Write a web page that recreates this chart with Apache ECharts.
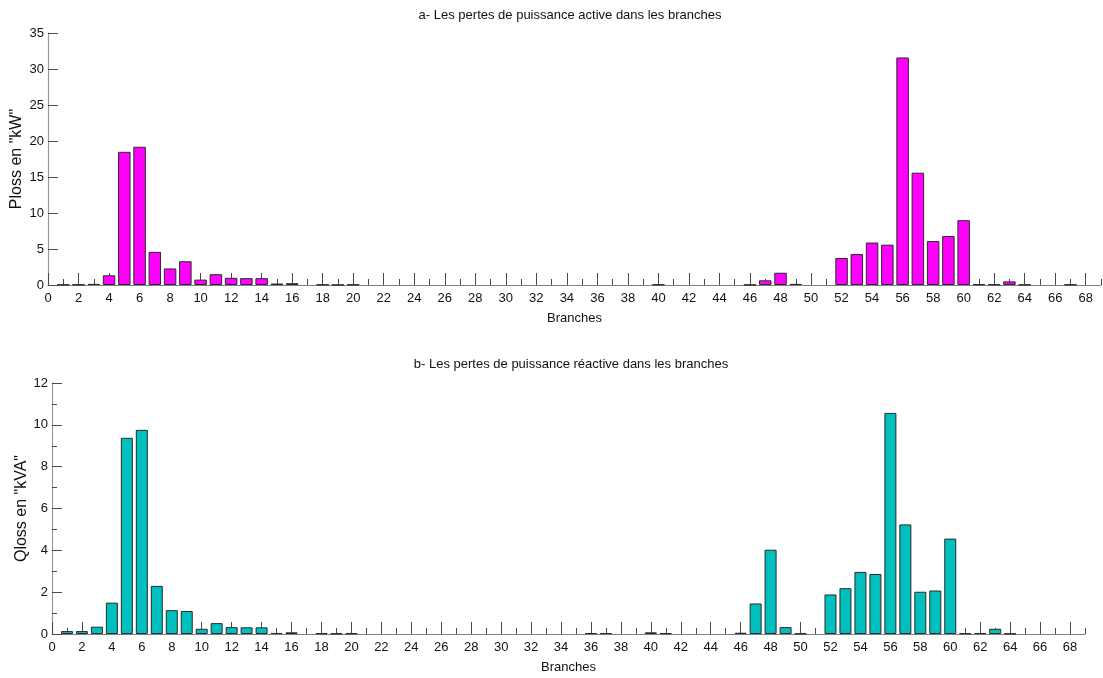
<!DOCTYPE html>
<html>
<head>
<meta charset="utf-8">
<script src="https://cdn.jsdelivr.net/npm/echarts@6/dist/echarts.min.js"></script>
<style>
  html, body { margin: 0; padding: 0; background: #fff; }
  #chart { width: 1103px; height: 678px; }
</style>
</head>
<body>
<div id="chart"></div>
<script>
// Branch numbers of the 69-bus feeder (68 branches)
const branches = [];
for (let b = 1; b <= 68; b++) branches.push(b);

// Active power losses per branch (kW)
const plossKW = [
  0.05, 0.05, 0.15, 1.35, 18.5, 19.2, 4.6, 2.3, 3.3, 0.75,
  1.5, 1.0, 0.95, 0.95, 0.2, 0.25, 0, 0.05, 0.02, 0.05,
  0, 0, 0, 0, 0, 0, 0, 0, 0, 0,
  0, 0, 0, 0, 0, 0, 0, 0, 0, 0.08,
  0, 0, 0, 0, 0, 0.03, 0.65, 1.7, 0.15, 0,
  0, 3.75, 4.3, 5.9, 5.6, 31.6, 15.6, 6.1, 6.8, 9.0,
  0.1, 0.08, 0.5, 0.05, 0, 0, 0.05, 0
];

// Reactive power losses per branch (kVA)
const qlossKVA = [
  0.14, 0.14, 0.35, 1.5, 9.38, 9.76, 2.3, 1.14, 1.1, 0.25,
  0.52, 0.33, 0.32, 0.32, 0.05, 0.08, 0, 0.03, 0.02, 0.03,
  0, 0, 0, 0, 0, 0, 0, 0, 0, 0,
  0, 0, 0, 0, 0, 0.04, 0.04, 0, 0, 0.08,
  0.04, 0, 0, 0, 0, 0.06, 1.46, 4.03, 0.33, 0.02,
  0, 1.89, 2.19, 2.97, 2.87, 10.57, 5.24, 2.02, 2.08, 4.56,
  0.03, 0.04, 0.25, 0.02, 0, 0, 0, 0
];

// Tick positions on the branch axis: labelled even ticks, short odd ticks
const majorTicks = [];
for (let t = 0; t <= 68; t += 2) majorTicks.push(t);
const minorTicks = [];
for (let t = 1; t <= 69; t += 2) minorTicks.push(t);

const titles = [
  'a- Les pertes de puissance active dans les branches',
  'b- Les pertes de puissance réactive dans les branches'
];
const yNames = ['Ploss en "kW"', 'Qloss en "kVA"'];
const xName = 'Branches';

const FONT = '"Liberation Sans", Arial, sans-serif';
const AXIS_GRAY = '#9a9a9a';
const TICK_DARK = '#4a4a4a';

function branchAxes(grid) {
  return [
    {
      gridIndex: grid, type: 'value', min: 0, max: 69, position: 'bottom', offset: 0,
      axisLine: { show: true, onZero: false, lineStyle: { color: '#808080', width: 1 } },
      axisTick: { show: true, inside: true, length: 12, customValues: majorTicks,
                  lineStyle: { color: TICK_DARK, width: 1 } },
      axisLabel: { show: true, customValues: majorTicks, margin: 7,
                   fontSize: 13, fontFamily: FONT, color: '#111' },
      splitLine: { show: false },
      name: xName, nameLocation: 'middle', nameGap: 27, nameMoveOverlap: false,
      nameTextStyle: { fontSize: 13, fontFamily: FONT, color: '#111' }
    },
    {
      gridIndex: grid, type: 'value', min: 0, max: 69, position: 'bottom', offset: 0,
      axisLine: { show: false },
      axisTick: { show: true, inside: true, length: 6, customValues: minorTicks,
                  lineStyle: { color: TICK_DARK, width: 1 } },
      axisLabel: { show: false },
      splitLine: { show: false }
    }
  ];
}

function toBars(values) {
  return branches.map((b, i) => [b, values[i] === 0 ? '-' : values[i]]);
}

const chart = echarts.init(document.getElementById('chart'), null, { renderer: 'canvas' });

chart.setOption({
  animation: false,
  backgroundColor: '#ffffff',
  textStyle: { fontFamily: FONT },
  grid: [
    { left: 48, right: 2, top: 33, height: 252, outerBoundsMode: 'none', containLabel: false },
    { left: 52, right: 18, top: 383, height: 251, outerBoundsMode: 'none', containLabel: false }
  ],
  graphic: [
    { type: 'text', x: 570, y: 15,
      style: { text: titles[0], font: '13px ' + FONT, fill: '#111',
               textAlign: 'center', textVerticalAlign: 'middle' } },
    { type: 'text', x: 571, y: 364,
      style: { text: titles[1], font: '13px ' + FONT, fill: '#111',
               textAlign: 'center', textVerticalAlign: 'middle' } }
  ],
  xAxis: branchAxes(0).concat(branchAxes(1)),
  yAxis: [
    {
      gridIndex: 0, type: 'value', min: 0, max: 35, interval: 5,
      axisLine: { show: true, lineStyle: { color: AXIS_GRAY, width: 1.2 } },
      axisTick: { show: true, inside: true, length: 10, lineStyle: { color: TICK_DARK } },
      axisLabel: { margin: 4, fontSize: 13, fontFamily: FONT, color: '#111' },
      splitLine: { show: false },
      name: yNames[0], nameLocation: 'middle', nameGap: 23, nameMoveOverlap: false,
      nameTextStyle: { fontSize: 16, fontFamily: FONT, color: '#111' }
    },
    {
      gridIndex: 1, type: 'value', min: 0, max: 12, interval: 2,
      axisLine: { show: true, lineStyle: { color: AXIS_GRAY, width: 1.2 } },
      axisTick: { show: true, inside: true, length: 10, lineStyle: { color: TICK_DARK } },
      minorTick: { show: true, splitNumber: 2, length: 5, lineStyle: { color: TICK_DARK } },
      axisLabel: { margin: 4, fontSize: 13, fontFamily: FONT, color: '#111' },
      splitLine: { show: false },
      name: yNames[1], nameLocation: 'middle', nameGap: 22, nameMoveOverlap: false,
      nameTextStyle: { fontSize: 16, fontFamily: FONT, color: '#111' }
    }
  ],
  series: [
    {
      name: yNames[0], type: 'bar', xAxisIndex: 0, yAxisIndex: 0,
      barWidth: 12.5,
      itemStyle: { color: '#ff00ff', borderColor: '#2a2a2a', borderWidth: 1 },
      data: toBars(plossKW)
    },
    {
      name: yNames[1], type: 'bar', xAxisIndex: 2, yAxisIndex: 1,
      barWidth: 12,
      itemStyle: { color: '#00bfbf', borderColor: '#2a2a2a', borderWidth: 1 },
      data: toBars(qlossKVA)
    }
  ]
});
</script>
</body>
</html>
